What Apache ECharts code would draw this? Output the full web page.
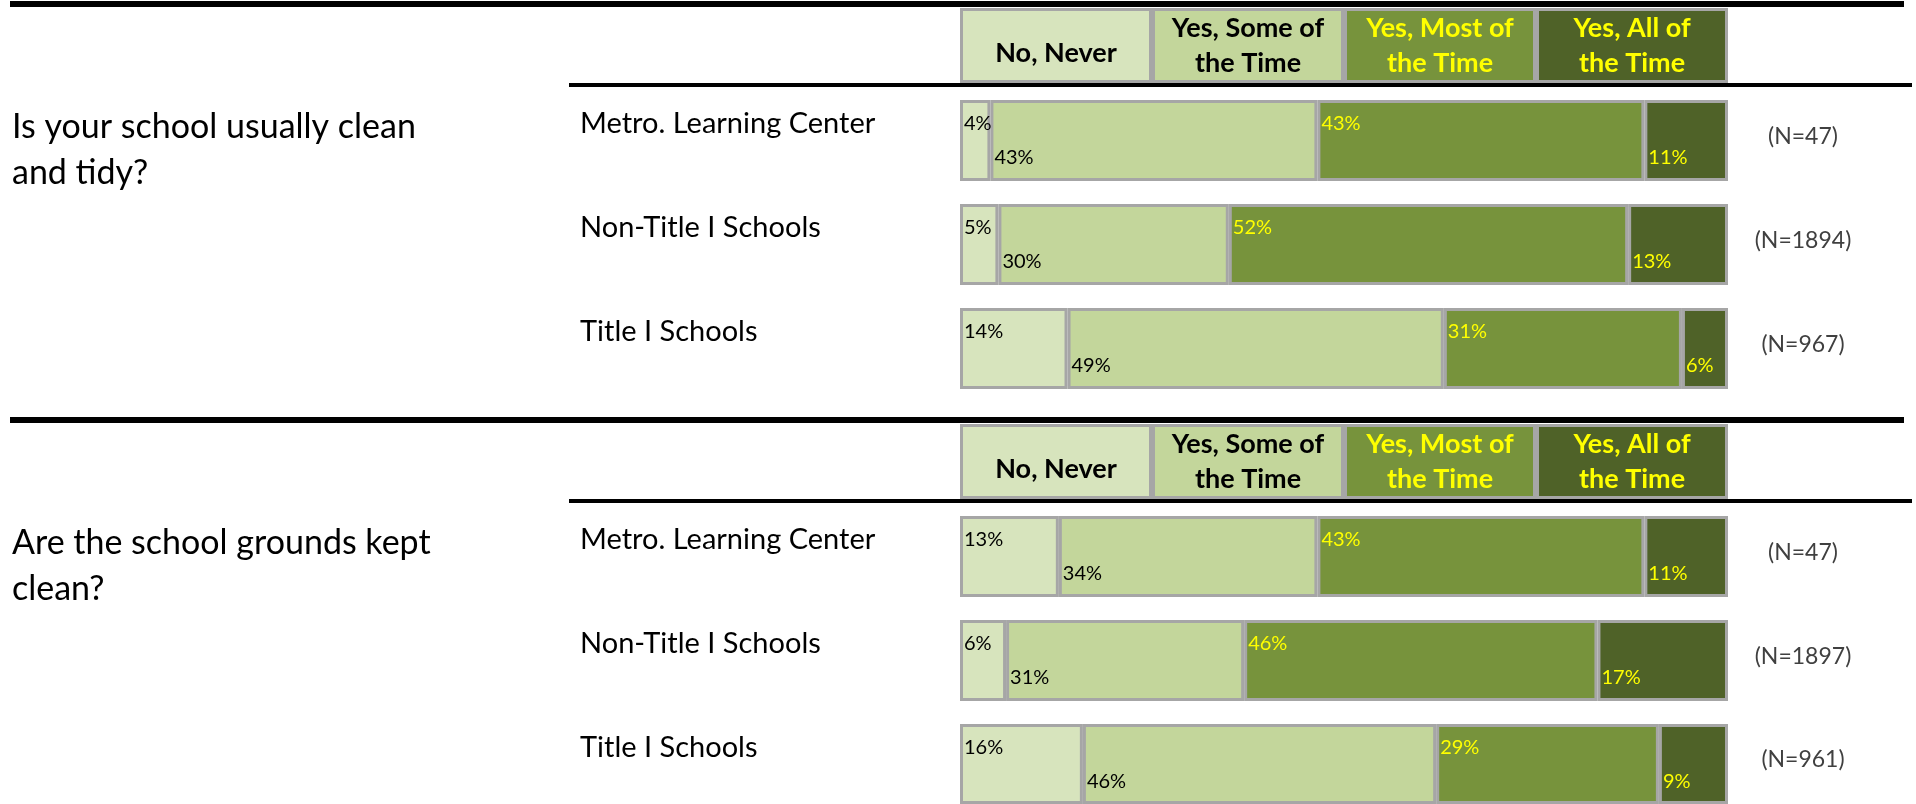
<!DOCTYPE html>
<html>
<head>
<meta charset="utf-8">
<script src="https://cdn.jsdelivr.net/npm/echarts@6/dist/echarts.min.js"></script>
<style>
  html, body { margin: 0; padding: 0; background: #fff; }
  #main { width: 1916px; height: 804px; }
</style>
</head>
<body>
<div id="main"></div>
<script>
// answer categories (header cells) and their colours
const categories = ['No, Never', 'Yes, Some of the Time', 'Yes, Most of the Time', 'Yes, All of the Time'];
const headerLabels = ['No, Never', 'Yes, Some of\nthe Time', 'Yes, Most of\nthe Time', 'Yes, All of\nthe Time'];
const colors = ['#d7e4bd', '#c3d69b', '#77933c', '#4f6228'];
const textColors = ['#000000', '#000000', '#ffff00', '#ffff00'];

const groups = ['Metro. Learning Center', 'Non-Title I Schools', 'Title I Schools'];

// Q1: Is your school usually clean and tidy?
const q1Title = 'Is your school usually clean\nand tidy?';
const q1Never = [4, 5, 14];
const q1Some = [43, 30, 49];
const q1Most = [43, 52, 31];
const q1All = [11, 13, 6];
const q1N = [47, 1894, 967];

// Q2: Are the school grounds kept clean?
const q2Title = 'Are the school grounds kept\nclean?';
const q2Never = [13, 6, 16];
const q2Some = [34, 31, 46];
const q2Most = [43, 46, 29];
const q2All = [11, 17, 9];
const q2N = [47, 1897, 961];

const sections = [
  { title: q1Title, values: [q1Never, q1Some, q1Most, q1All], n: q1N },
  { title: q2Title, values: [q2Never, q2Some, q2Most, q2All], n: q2N }
];

const FONT = 'Lato';
const BORDER = '#a6a6a6';
const SEC_STEP = 416;
const ROW_TOPS = [100, 204, 308];

let grids = [], xAxes = [], yAxes = [], series = [], titles = [], lines = [];

sections.forEach((sec, s) => {
  const off = s * SEC_STEP;

  titles.push({
    text: sec.title,
    left: 12,
    top: 104 + off,
    padding: 0,
    textStyle: { fontFamily: FONT, fontSize: 34, fontWeight: 'normal', lineHeight: 46, color: '#000' }
  });

  // header row drawn as one stacked bar of equal cells
  let gi = grids.length;
  grids.push({ left: 960, width: 768, top: 8 + off, height: 75 });
  xAxes.push({ gridIndex: gi, type: 'value', min: 0, max: categories.length, show: false });
  let yi = yAxes.length;
  yAxes.push({ gridIndex: gi, type: 'category', data: ['header'], show: false });
  categories.forEach((c, k) => {
    series.push({
      name: c,
      type: 'bar',
      stack: 'g' + gi,
      xAxisIndex: gi,
      yAxisIndex: yi,
      barWidth: '100%',
      data: [1],
      silent: true,
      itemStyle: { color: colors[k], borderColor: BORDER, borderWidth: 3 },
      label: {
        show: true,
        position: 'inside',
        offset: k === 0 ? [0, 8] : [0, 0],
        formatter: headerLabels[k],
        fontFamily: FONT,
        fontWeight: 'bold',
        fontSize: 27,
        lineHeight: 35,
        color: textColors[k]
      }
    });
  });

  // one grid per school group
  groups.forEach((g, r) => {
    let gi = grids.length;
    const total = sec.values.reduce((a, v) => a + v[r], 0);
    grids.push({ left: 960, width: 768, top: ROW_TOPS[r] + off, height: 81 });
    xAxes.push({ gridIndex: gi, type: 'value', min: 0, max: total, show: false });
    let yi = yAxes.length;
    yAxes.push({
      gridIndex: gi, type: 'category', data: [g],
      axisLine: { show: false }, axisTick: { show: false },
      axisLabel: { margin: 380, align: 'left', verticalAlign: 'bottom', lineHeight: 33, fontFamily: FONT, fontSize: 29, color: '#000' }
    });
    yAxes.push({
      gridIndex: gi, type: 'category', position: 'right', data: ['(N=' + sec.n[r] + ')'],
      axisLine: { show: false }, axisTick: { show: false },
      axisLabel: { margin: 75, align: 'center', verticalAlign: 'bottom', lineHeight: 8, fontFamily: FONT, fontSize: 23, color: '#404040' }
    });
    categories.forEach((c, k) => {
      series.push({
        name: c,
        type: 'bar',
        stack: 'g' + gi,
        xAxisIndex: gi,
        yAxisIndex: yi,
        barWidth: '100%',
        data: [sec.values[k][r]],
        itemStyle: { color: colors[k], borderColor: BORDER, borderWidth: 3 },
        label: {
          show: true,
          position: [4, k % 2 === 0 ? 24 : 58],
          align: 'left',
          verticalAlign: 'middle',
          formatter: '{c}%',
          fontFamily: FONT,
          fontSize: 20,
          color: textColors[k]
        }
      });
    });
  });

  // black rules above and below the header
  lines.push({ type: 'rect', z: 100, shape: { x: 10, y: 1 + off, width: 1894, height: 6 }, style: { fill: '#000' } });
  lines.push({ type: 'rect', z: 100, shape: { x: 569, y: 83 + off, width: 1343, height: 4 }, style: { fill: '#000' } });
});

const chart = echarts.init(document.getElementById('main'));
chart.setOption({
  animation: false,
  backgroundColor: '#fff',
  title: titles,
  grid: grids,
  xAxis: xAxes,
  yAxis: yAxes,
  series: series,
  graphic: lines
});
window.onresize = chart.resize;
</script>
</body>
</html>
